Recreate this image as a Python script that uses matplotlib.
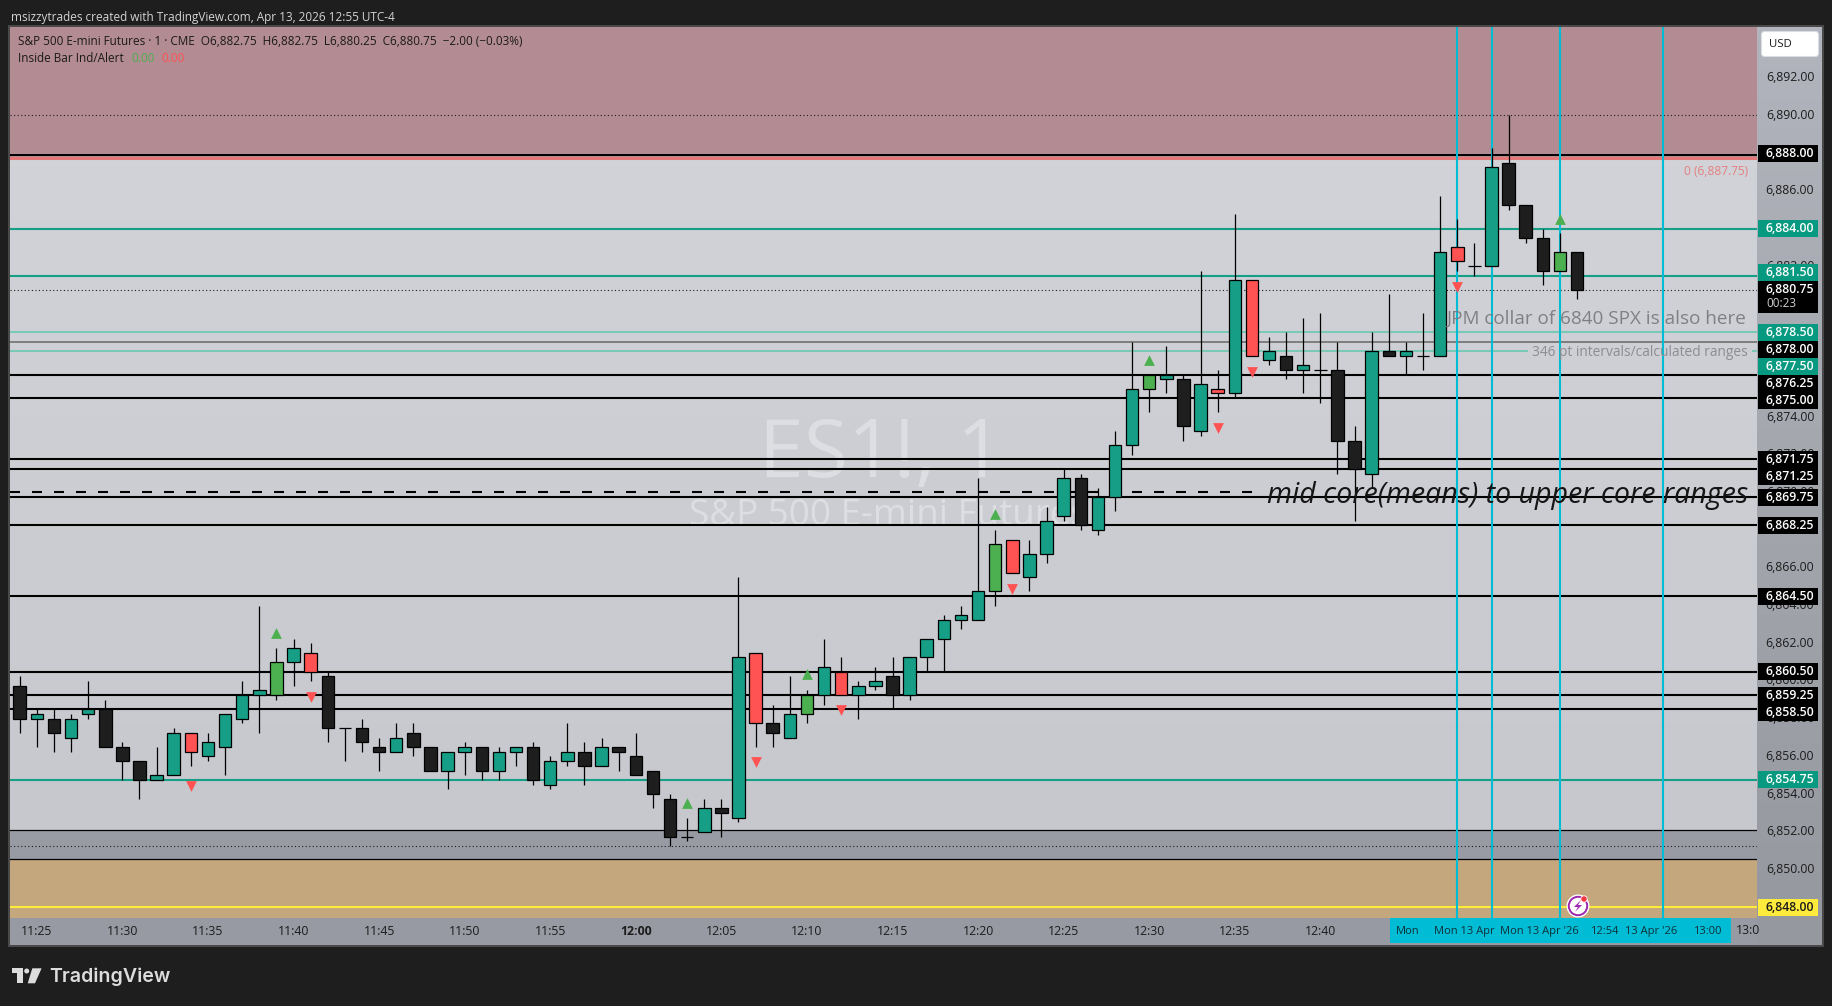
#ES1! one minute chart with levels, TradingView style
import numpy as np
import matplotlib
matplotlib.use('Agg')
import matplotlib.pyplot as plt
from matplotlib.colors import LinearSegmentedColormap
from matplotlib.patches import Rectangle, Polygon, Circle, FancyBboxPatch

plt.rcParams['font.family'] = ['Open Sans', 'DejaVu Sans']

# candles, one per minute from 11:24
opens = [6859.75,6858,6858,6857,6858.25,6858.5,6856.5,6855.75,6854.75,6855,
         6857.25,6856,6856.5,6858,6859.25,6859.25,6861,6861.5,6860.25,6857.5,
         6857.5,6856.5,6856.25,6857.25,6856.5,6855.25,6856.25,6856.5,6855.25,6856.25,
         6856.5,6854.5,6855.75,6856.25,6855.5,6856.5,6856,6855.25,6853.75,6851.75,
         6852,6853.25,6852.75,6861.5,6857.75,6857,6858.25,6859.25,6860.5,6859.25,
         6859.75,6860.25,6859.25,6861.25,6862.25,6863.25,6863.25,6864.75,6867.5,6865.5,
         6866.75,6868.75,6870.75,6868,6869.75,6872.5,6875.5,6876,6876,6873.25,
         6875.5,6875.25,6881.25,6877,6877.25,6876.5,6876.5,6876.5,6872.75,6871,
         6877.5,6877.25,6877.25,6877.25,6883,6882,6882,6887.5,6885.25,6883.5,
         6881.75,6882.75]
highs = [6860.25,6858.5,6858.5,6858.25,6860,6859,6856.75,6855.75,6856.5,6857.5,
         6857.25,6857.25,6858.25,6860,6864,6861.75,6862.25,6862,6860.5,6857.5,
         6858,6857,6857.75,6857.75,6856.5,6856.25,6856.75,6856.5,6856.5,6856.5,
         6856.75,6856,6857.75,6856.75,6857,6856.5,6857.25,6855.25,6854,6852.75,
         6853.75,6853.75,6865.5,6861.5,6858.75,6860.25,6859.5,6862.25,6861.25,6860,
         6860.75,6861.25,6861.25,6862.25,6863.5,6864,6870.75,6868,6867.5,6867.5,
         6869.25,6871.25,6871,6870.25,6873.25,6878,6876.25,6877.75,6876.25,6881.75,
         6876.5,6884.75,6881.25,6878.25,6878.5,6879.25,6879.5,6878,6873.5,6878.5,
         6880.5,6878,6879.5,6885.75,6884.5,6883.25,6888.25,6890,6885.25,6884,
         6883.75,6882.75]
lows = [6857.25,6856.5,6856.25,6856.25,6858,6856.5,6854.75,6853.75,6854.75,6855,
        6855.5,6855.75,6855,6857.75,6857.25,6859,6859.75,6860,6856.75,6855.75,
        6856.25,6855.25,6856.25,6856,6855.25,6854.25,6855,6854.75,6854.75,6855.5,
        6854.5,6854.25,6855.5,6854.5,6855.5,6855.25,6855,6853.25,6851.25,6851.5,
        6852,6851.75,6852.5,6856.5,6856.5,6857,6857.75,6858.75,6859.25,6858,
        6859.5,6858.5,6859,6860.5,6860.5,6862.75,6863.25,6864,6865.75,6864.75,
        6866.25,6868.5,6868,6867.75,6869,6872,6874.25,6875.25,6872.75,6873,
        6874.25,6875,6877.25,6876.75,6876,6875.25,6874.75,6871,6868.5,6870.25,
        6877.25,6876.25,6876.5,6877.25,6881.75,6881.5,6882,6885,6883.25,6881,
        6881.75,6880.25]
closes = [6858,6858.25,6857.25,6858,6858.5,6856.5,6855.75,6854.75,6855,6857.25,
          6856.25,6856.75,6858.25,6859.25,6859.5,6861,6861.75,6860.5,6857.5,6857.5,
          6856.75,6856.25,6857,6856.5,6855.25,6856.25,6856.5,6855.25,6856.25,6856.5,
          6854.75,6855.75,6856.25,6855.5,6856.5,6856.25,6855,6854,6851.75,6851.75,
          6853.25,6853,6861.25,6857.75,6857.25,6858.25,6859.25,6860.75,6859.25,6859.75,
          6860,6859.25,6861.25,6862.25,6863.25,6863.5,6864.75,6867.25,6865.75,6866.75,
          6868.5,6870.75,6868.25,6869.75,6872.5,6875.5,6876.25,6876.25,6873.5,6875.75,
          6875.25,6881.25,6877.25,6877.5,6876.5,6876.75,6876.5,6872.75,6871.25,6877.5,
          6877.25,6877.5,6877.25,6882.75,6882.25,6882,6887.25,6885.25,6883.5,6881.75,
          6882.75,6880.75]
bar_colors = ['k','t','k','t','t','k','k','k','t','t',
              'r','t','t','t','t','g','t','r','k','k',
              'k','k','t','k','k','t','t','k','t','t',
              'k','t','t','k','t','k','k','k','k','k',
              't','k','t','r','k','t','g','t','r','t',
              't','k','t','t','t','t','t','g','r','t',
              't','t','k','t','t','t','g','t','k','t',
              'r','t','r','t','k','t','k','k','k','t',
              'k','t','k','t','r','k','t','k','k','k',
              'g','k']

down_bars = [10,17,43,48,58,70,72,84]
down_prices = [6854.45,6859.15,6855.7,6858.45,6864.9,6873.4,6876.4,6880.9]
up_bars = [15,39,46,57,66,90]
up_prices = [6862.55,6853.55,6860.35,6868.85,6877.05,6884.5]

black_levels = [6876.25,6875,6871.75,6871.25,6869.75,6868.25,6864.5,6860.5,6859.25,6858.5]
teal_levels = [6884,6881.5,6854.75]
dotted_levels = [6890,6880.75,6851.25]
cyan_bars = [84,86,90,96]

axis_ticks = [6892,6890,6886,6882,6874,6872,6870,6866,6864,6862,6860,6858,6856,6854,6852,6850]
tag_values = [6888,6884,6881.5,6880.75,6878.5,6878,6877.5,6876.25,6875,6871.75,6871.25,
              6869.75,6868.25,6864.5,6860.5,6859.25,6858.5,6854.75,6848]
tag_kinds = ['k','t','t','k','t','k','t','k','k','k','k','k','k','k','k','k','k','t','y']

time_labels = ['11:25','11:30','11:35','11:40','11:45','11:50','11:55','12:00',
               '12:05','12:10','12:15','12:20','12:25','12:30','12:35','12:40']
time_bars = [1,6,11,16,21,26,31,36,41,46,51,56,61,66,71,76]
range_labels = ['Mon','Mon 13 Apr',"Mon 13 Apr '26",'12:54',"13 Apr '26",'13:00']
range_pos = [81.1,84.4,88.8,92.6,95.3,98.6]

TEAL = '#169f86'
colors = {'t':TEAL,'k':'#1e1e1e','g':'#4caf50','r':'#ff5252'}
W, H = 1833, 1006
L, R, T, B = 10.5, 1757, 27, 918
AX_R, AX_B = 1822, 945
PX = 18.853      # pixels per point of price
y_top = 6884+(228.5-T)/PX
y_bot = 6884-(B-228.5)/PX
x0 = -(19.7-L)/17.114
x1 = (R-19.7)/17.114

def rect(l,t,r,b):
    return [l/W, 1-b/H, (r-l)/W, (b-t)/H]

fig = plt.figure(figsize=(W/100,H/100), dpi=100, facecolor='#1e1e1e')

# frame around the chart, in pixels
bg = fig.add_axes([0,0,1,1], zorder=0)
bg.set_xlim(0,W); bg.set_ylim(H,0); bg.axis('off')
bg.add_patch(Rectangle((L-1,T-1),AX_R-L+2,AX_B-T+2,fc='none',ec='#4b4b4b',lw=1.4))
bg.text(11,17,'msizzytrades created with TradingView.com, Apr 13, 2026 12:55 UTC-4',
        color='#d4d4d4',fontsize=8.45,va='center')

# main price panel
ax = fig.add_axes(rect(L,T,R,B), zorder=2)
ax.set_xlim(x0,x1); ax.set_ylim(y_bot,y_top); ax.axis('off')
grad = np.linspace(0,1,64).reshape(-1,1)
ax.imshow(grad,extent=[x0,x1,y_bot,y_top],aspect='auto',origin='upper',zorder=0,
          cmap=LinearSegmentedColormap.from_list('p',['#d4d5da','#c6c7cc']))
ax.axhspan(6887.75,y_top,color='#b38b92',lw=0,zorder=1)
ax.axhspan(6850.55,6852.1,color='#999ba4',lw=0,zorder=1)
ax.axhspan(y_bot,6850.55,color='#c4a77c',lw=0,zorder=1)

ax.text((881-L)/(R-L),1-(456-T)/(B-T),'ES1!, 1',transform=ax.transAxes,ha='center',va='center',
        fontsize=58,color='#dcdee2',zorder=1.5)
ax.text((872+16-L)/(R-L),1-(516-T)/(B-T),'S&P 500 E-mini Futures',transform=ax.transAxes,ha='center',va='center',
        fontsize=26.5,color='#dcdee2',zorder=1.5)

for v in black_levels:
    ax.axhline(v,color='black',lw=1.5,zorder=2)
for v in teal_levels:
    ax.axhline(v,color=TEAL,lw=1.5,zorder=2)
for v in dotted_levels:
    ax.axhline(v,color='#202020',lw=0.8,ls=(0,(1,2.2)),zorder=2)
ax.axhline(6887.9,color='black',lw=1.4,zorder=2.1)
ax.axhline(6887.75,color='#e57878',lw=2.2,zorder=2)
ax.axhline(6878.5,color='#78c8b6',lw=1.4,zorder=2)
ax.axhline(6878,color='#7d7d7d',lw=1.4,zorder=2)
ax.plot([x0,88.1],[6877.5,6877.5],color='#78c8b6',lw=1.4,zorder=2)
ax.plot([101.3,x1],[6877.5,6877.5],color='#78c8b6',lw=1.4,zorder=2)
ax.axhline(6852.1,color='black',lw=0.9,zorder=2)
ax.axhline(6850.55,color='black',lw=0.9,zorder=2)
ax.axhline(6848,color='#ffeb3b',lw=1.5,zorder=2)
ax.plot([x0,72],[6870,6870],color='black',lw=1.5,ls=(0,(4.8,5.76)),zorder=2)
for b in cyan_bars:
    ax.axvline(b,color='#00bcd4',lw=1.5,zorder=2.5)

# candles
for i in range(len(opens)):
    c = colors[bar_colors[i]]
    ax.vlines(i,lows[i],highs[i],color='black',lw=0.9,zorder=3)
    if opens[i] == closes[i]:
        ax.hlines(opens[i],i-0.37,i+0.37,color='black',lw=0.9,zorder=3)
    else:
        ax.bar(i,closes[i]-opens[i],bottom=opens[i],width=0.73,color=c,edgecolor='black',lw=0.9,zorder=4)
ax.scatter(down_bars,down_prices,marker='v',s=60,color='#ff5252',lw=0,zorder=5)
ax.scatter(up_bars,up_prices,marker='^',s=60,color='#4caf50',lw=0,zorder=5)

# notes on the chart
ax.text(101,6869.85,'mid core(means) to upper core ranges',style='italic',ha='right',va='center',
        fontsize=20.6,color='#151515',zorder=6)
ax.text(100.9,6879.2,'JPM collar of 6840 SPX is also here',ha='right',va='center',
        fontsize=13.6,color='#76787c',alpha=0.9,zorder=6)
ax.text(101,6877.43,'346 pt intervals/calculated ranges',ha='right',va='center',
        fontsize=9.9,color='#8b8d92',zorder=6)
ax.text(101,6887.0,'0 (6,887.75)',ha='right',va='center',fontsize=8.6,color='#e57f7f',zorder=6)

# legend lines
ax_fs = 8.5
bg2 = fig.add_axes([0,0,1,1], zorder=5)
bg2.set_xlim(0,W); bg2.set_ylim(H,0); bg2.axis('off'); bg2.patch.set_alpha(0)
bg2.text(18,41.5,'S&P 500 E-mini Futures · 1 · CME  O6,882.75  H6,882.75  L6,880.25  C6,880.75  −2.00 (−0.03%)',
         color='#1a1a1a',fontsize=ax_fs,va='center')
bg2.text(18,58.5,'Inside Bar Ind/Alert',color='#1a1a1a',fontsize=ax_fs,va='center')
bg2.text(131,58.5,'0.00',color='#4caf50',fontsize=ax_fs,va='center')
bg2.text(161,58.5,'0.00',color='#ff5252',fontsize=ax_fs,va='center')

# price axis
pax = fig.add_axes(rect(R,T,AX_R,AX_B), zorder=3)
y_ax_bot = 6884-(AX_B-228.5)/PX
pax.set_xlim(0,1); pax.set_ylim(y_ax_bot,y_top); pax.axis('off')
pax.imshow(grad,extent=[0,1,y_ax_bot,y_top],aspect='auto',origin='upper',
           cmap=LinearSegmentedColormap.from_list('a',['#b2b4bd','#96989f']))
xc = (1790-R)/(AX_R-R)
for v in axis_ticks:
    pax.text(xc,v,f'{v:,.2f}',ha='center',va='center',fontsize=8.8,color='#1c1c1c')
gap = 17.0/PX
prev = None
tag_bg = {'k':'black','t':'#089981','y':'#ffeb3b'}
tag_fg = {'k':'white','t':'white','y':'#1c1c1c'}
for v,kind in zip(tag_values,tag_kinds):
    pos = v
    if prev is not None and pos > prev-gap:
        pos = prev-gap
    if v == 6881.5:    # pushed up by the two line tag below it
        pos = 6880.75+gap
    extra = 14.5/PX if v == 6880.75 else 0
    pax.add_patch(Rectangle(((1758-R)/(AX_R-R),pos-8.5/PX-extra),60/(AX_R-R),17/PX+extra,
                            fc=tag_bg[kind],ec='none',zorder=3))
    pax.text(xc,pos,f'{v:,.2f}',ha='center',va='center',fontsize=8.8,color=tag_fg[kind],
             fontweight='semibold',zorder=4)
    if v == 6880.75:
        pax.text((1781-R)/(AX_R-R),pos-14/PX,'00:23',ha='center',va='center',fontsize=8.4,
                 color='#cfcfcf',zorder=4)
        pos -= extra
    prev = pos

# time axis
tax = fig.add_axes(rect(L,B,R,AX_B), zorder=3)
tax.set_xlim(x0,x1); tax.set_ylim(0,1); tax.axis('off')
tax.add_patch(Rectangle((x0,0),x1-x0,1,fc='#989aa3',ec='none'))
for b,t in zip(time_bars,time_labels):
    tax.text(b,0.5,t,ha='center',va='center',fontsize=8.8,color='#1c1c1c',
             fontweight='bold' if t == '12:00' else 'normal')
tax.add_patch(Rectangle((80.07,0.09),100-80.07,0.91,fc='#00bcd4',ec='none'))
for p,t in zip(range_pos,range_labels):
    tax.text(p,0.5,t,ha='center',va='center',fontsize=8.0,color='#10303a')
tax.text(101,0.52,'13:0',ha='center',va='center',fontsize=8.8,color='#1c1c1c')

# icons and logo, in pixels
top = fig.add_axes([0,0,1,1], zorder=6)
top.set_xlim(0,W); top.set_ylim(H,0); top.axis('off'); top.patch.set_alpha(0)
top.add_patch(FancyBboxPatch((1763,33),54,22,boxstyle='round,pad=1.5,rounding_size=3',fc='white',ec='#dcdde2',lw=0.8))
top.text(1780,44.5,'USD',ha='center',va='center',fontsize=8.2,color='#1c1c1c')
top.add_patch(Circle((1578,906),11.5,fc='white',ec='none'))
top.add_patch(Circle((1578,906),9.2,fc='white',ec='#9c27b0',lw=1.4))
top.add_patch(Polygon([(1581,900),(1574,907),(1578,907),(1575,912),(1582,905),(1578,905)],fc='#9c27b0',ec='none'))
top.add_patch(Circle((1584,899),3.2,fc='#f23645',ec='white',lw=0.6))
logo = '#dcdcdc'
top.add_patch(Polygon([(12.3,968.3),(22.7,968.3),(22.7,983.3),(17.3,983.3),(17.3,973.3),(12.3,973.3)],fc=logo,ec='none'))
top.add_patch(Circle((26.7,971),2.5,fc=logo,ec='none'))
top.add_patch(Polygon([(32.3,968.3),(41.6,968.3),(35,983.3),(27.7,983.3)],fc=logo,ec='none'))
top.text(49,976.5,'TradingView',va='center',fontsize=14.1,color=logo,fontweight='semibold',family='Inter')

fig.savefig('out.png',dpi=100,facecolor=fig.get_facecolor())
